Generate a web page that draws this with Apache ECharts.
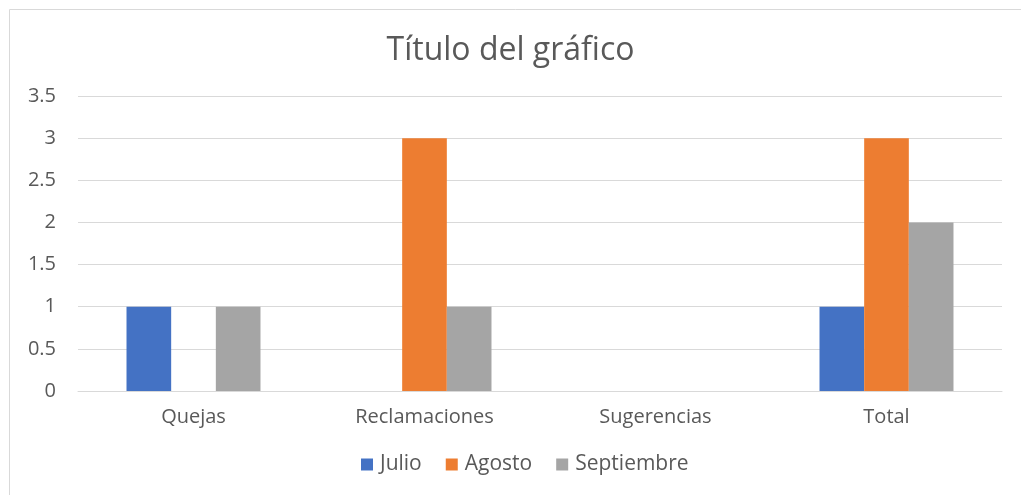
<!DOCTYPE html>
<html><head><meta charset="utf-8">
<script src="https://cdn.jsdelivr.net/npm/echarts@6/dist/echarts.min.js"></script>
<style>html,body{margin:0;padding:0;background:#fff}#c{width:1021px;height:495px}</style>
</head><body><div id="c"></div>
<script>
const categories = ["Quejas", "Reclamaciones", "Sugerencias", "Total"];
const julio = [1, 0, 0, 1];
const agosto = [0, 3, 0, 3];
const septiembre = [1, 1, 0, 2];
const yTicks = [0, 0.5, 1, 1.5, 2, 2.5, 3, 3.5];

const chart = echarts.init(document.getElementById('c'));
const font = '"Open Sans", "Noto Sans", sans-serif';
const mk = (name, data, color) => ({
  name, type: 'bar', data, barGap: '0%', barCategoryGap: '42%',
  itemStyle: { color }
});
chart.setOption({
  animation: false,
  textStyle: { fontFamily: font },
  graphic: [{
    type: 'rect', shape: { x: 9.5, y: 9.5, width: 1030, height: 500 },
    style: { fill: 'none', stroke: '#D9D9D9', lineWidth: 1 }, silent: true
  }],
  title: {
    text: 'Título del gráfico', left: 'center', top: 30,
    textStyle: { fontFamily: font, fontSize: 32, fontWeight: 'normal', color: '#595959' }
  },
  legend: {
    bottom: 15, left: 356, itemWidth: 12, itemHeight: 12, itemGap: 24,
    icon: 'rect',
    textStyle: { fontFamily: font, fontSize: 21, color: '#595959', padding: [0, 0, 0, 2] },
    data: ['Julio', 'Agosto', 'Septiembre']
  },
  grid: { left: 78, right: 19, top: 96, bottom: 104 },
  xAxis: {
    type: 'category', data: categories,
    axisLine: { lineStyle: { color: '#D9D9D9' } },
    axisTick: { show: false },
    axisLabel: { fontFamily: font, fontSize: 20, color: '#595959', margin: 16 }
  },
  yAxis: {
    type: 'value', min: yTicks[0], max: yTicks[yTicks.length - 1], interval: 0.5,
    axisLine: { show: false }, axisTick: { show: false },
    splitLine: { lineStyle: { color: '#D9D9D9', width: 1 } },
    axisLabel: { fontFamily: font, fontSize: 20, color: '#595959', margin: 22 }
  },
  series: [
    mk('Julio', julio, '#4472C4'),
    mk('Agosto', agosto, '#ED7D31'),
    mk('Septiembre', septiembre, '#A5A5A5')
  ]
});
</script></body></html>
